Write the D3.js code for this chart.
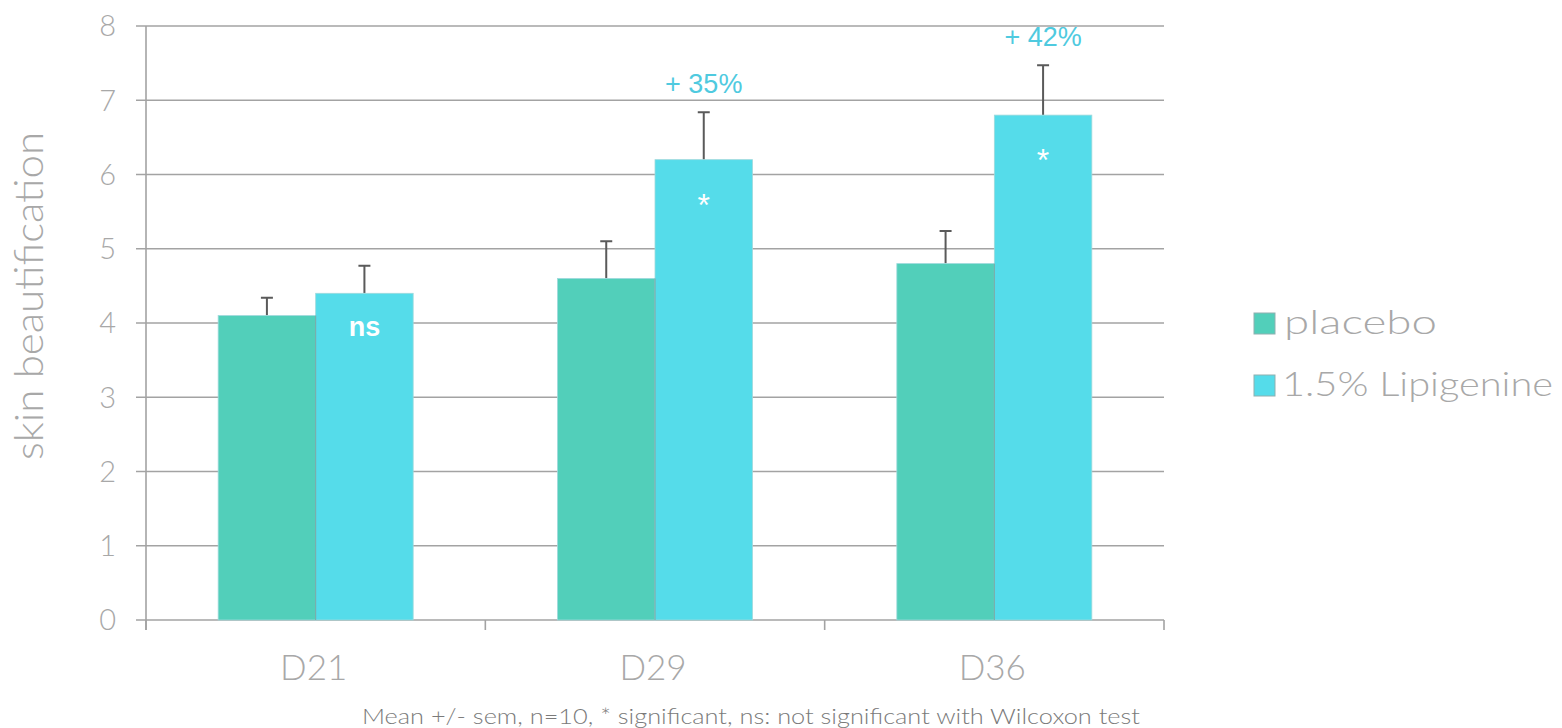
<!DOCTYPE html>
<html>
<head>
<meta charset="utf-8">
<script src="https://cdn.jsdelivr.net/npm/d3@7"></script>
<style>
  body { margin: 0; background: #fff; }
  svg text { font-family: "Lato", "Open Sans", sans-serif; }
</style>
</head>
<body>
<div id="chart"></div>
<script>
// chart data
var days = ["D21", "D29", "D36"];
var seriesNames = ["placebo", "1.5% Lipigenine"];
var placeboMean = [4.1, 4.6, 4.8];
var placeboSem = [0.24, 0.5, 0.44];
var lipiMean = [4.4, 6.2, 6.8];
var lipiSem = [0.37, 0.64, 0.67];
var signif = ["ns", "*", "*"];
var gains = ["", "+ 35%", "+ 42%"];
var yTicks = [0, 1, 2, 3, 4, 5, 6, 7, 8];

(function () {
    var W = 1562, H = 728;
    var margin = {top: 26, left: 146, right: 398, bottom: 108};
    var width = W - margin.left - margin.right,
        height = H - margin.top - margin.bottom;

    var colors = ["#52cfba", "#55dcea"];
    var textGrey = "#a8a8a8";

    var svg = d3.select("#chart").append("svg")
        .attr("width", W).attr("height", H);
    var g = svg.append("g")
        .attr("transform", "translate(" + margin.left + "," + margin.top + ")");

    var x = d3.scaleBand().domain(days).range([0, width]).padding(0);
    var inner = d3.scaleBand().domain(seriesNames)
        .range([0, x.bandwidth()]).paddingOuter(0.74).paddingInner(0);
    var y = d3.scaleLinear().domain([0, 8]).range([height, 0]);

    // gridlines
    g.append("g").selectAll("line").data(yTicks).enter().append("line")
        .attr("x1", -10).attr("x2", width)
        .attr("y1", function (d) { return y(d); })
        .attr("y2", function (d) { return y(d); })
        .attr("stroke", "#a3a3a3").attr("stroke-width", 1.6);

    // y axis labels
    g.append("g").selectAll("text").data(yTicks).enter().append("text")
        .attr("x", -30).attr("y", function (d) { return y(d); })
        .attr("dy", "0.36em").attr("text-anchor", "end")
        .style("font-size", "29px").style("font-weight", 300).style("fill", textGrey)
        .text(function (d) { return d; });

    // y axis line and x ticks
    g.append("line").attr("x1", 0).attr("x2", 0).attr("y1", 0).attr("y2", height + 10)
        .attr("stroke", "#a3a3a3").attr("stroke-width", 1.6);
    var xTickPos = days.map(function (d) { return x(d); }).concat([width]);
    g.append("g").selectAll("line").data(xTickPos).enter().append("line")
        .attr("x1", function (d) { return d; }).attr("x2", function (d) { return d; })
        .attr("y1", height).attr("y2", height + 10)
        .attr("stroke", "#a3a3a3").attr("stroke-width", 1.6);

    g.append("g").selectAll("text").data(days).enter().append("text")
        .attr("x", function (d) { return x(d) + x.bandwidth() / 2 - 2; })
        .attr("y", height + 60)
        .attr("text-anchor", "middle")
        .style("font-size", "35px").style("font-weight", 300).style("fill", textGrey)
        .text(function (d) { return d; });

    // bars
    var rows = days.map(function (d, i) {
        return {day: d, vals: [
            {s: seriesNames[0], m: placeboMean[i], e: placeboSem[i], c: colors[0]},
            {s: seriesNames[1], m: lipiMean[i], e: lipiSem[i], c: colors[1]}
        ], sig: signif[i], gain: gains[i]};
    });

    var grp = g.selectAll(".grp").data(rows).enter().append("g")
        .attr("transform", function (d) { return "translate(" + x(d.day) + ",0)"; });

    // error bars (upper only)
    grp.selectAll(".err").data(function (d) { return d.vals; }).enter().append("path")
        .attr("d", function (d) {
            var cx = inner(d.s) + inner.bandwidth() / 2;
            return "M" + cx + "," + y(d.m) + "V" + y(d.m + d.e) +
                "M" + (cx - 6) + "," + y(d.m + d.e) + "H" + (cx + 6);
        })
        .attr("stroke", "#5a5a5a").attr("stroke-width", 2).attr("fill", "none");

    grp.selectAll(".bar").data(function (d) { return d.vals; }).enter().append("rect")
        .attr("x", function (d) { return inner(d.s); })
        .attr("width", inner.bandwidth())
        .attr("y", function (d) { return y(d.m); })
        .attr("height", function (d) { return height - y(d.m); })
        .attr("fill", function (d) { return d.c; })
        .attr("stroke", "#9fd9dc").attr("stroke-width", 0.8);

    grp.append("line")
        .attr("x1", inner(seriesNames[1])).attr("x2", inner(seriesNames[1]))
        .attr("y1", function (d) { return y(Math.min(d.vals[0].m, d.vals[1].m)); })
        .attr("y2", height)
        .attr("stroke", "#6a9a94").attr("stroke-width", 0.8);

    // significance marks
    grp.append("text")
        .attr("x", inner(seriesNames[1]) + inner.bandwidth() / 2)
        .attr("y", function (d) { return d.sig === "ns" ? y(d.vals[1].m) + 43 : y(d.vals[1].m) + 56; })
        .attr("text-anchor", "middle")
        .style("font-family", "Liberation Sans, Arial, sans-serif")
        .style("font-weight", function (d) { return d.sig === "ns" ? "bold" : "normal"; })
        .style("font-size", function (d) { return d.sig === "ns" ? "27px" : "32px"; })
        .style("fill", "#ffffff")
        .text(function (d) { return d.sig; });

    // percent gains
    grp.append("text")
        .attr("x", inner(seriesNames[1]) + inner.bandwidth() / 2)
        .attr("y", function (d) { return y(d.vals[1].m + d.vals[1].e) - 19; })
        .attr("text-anchor", "middle")
        .style("font-family", "Liberation Sans, Arial, sans-serif")
        .style("font-size", "27px").style("fill", "#4fcadf")
        .text(function (d) { return d.gain; });

    // y label
    svg.append("text")
        .attr("transform", "translate(43," + (margin.top + height / 2 - 27) + ") rotate(-90)")
        .attr("text-anchor", "middle")
        .attr("textLength", 328).attr("lengthAdjust", "spacingAndGlyphs")
        .style("font-size", "40px").style("font-weight", 300).style("fill", textGrey)
        .text("skin beautification");

    // legend
    var legLen = [153, 271];
    var leg = svg.append("g").attr("transform", "translate(1254,313)");
    var li = leg.selectAll("g").data(seriesNames).enter().append("g")
        .attr("transform", function (d, i) { return "translate(0," + i * 62 + ")"; });
    li.append("rect").attr("width", 21).attr("height", 21)
        .attr("fill", function (d, i) { return colors[i]; })
        .attr("stroke", "#8fb0b0").attr("stroke-width", 1);
    li.append("text").attr("x", function (d, i) { return i ? 28 : 30; }).attr("y", 21)
        .attr("textLength", function (d, i) { return legLen[i]; })
        .attr("lengthAdjust", "spacingAndGlyphs")
        .style("font-size", "33px").style("font-weight", 300).style("fill", textGrey)
        .text(function (d) { return d; });

    // footnote
    svg.append("text").attr("x", 362).attr("y", 724)
        .attr("textLength", 778).attr("lengthAdjust", "spacingAndGlyphs")
        .style("font-size", "21px").style("font-weight", 300).style("fill", "#7a7a7a")
        .text("Mean +/- sem, n=10, * significant, ns: not significant with Wilcoxon test");
})();
</script>
</body>
</html>
